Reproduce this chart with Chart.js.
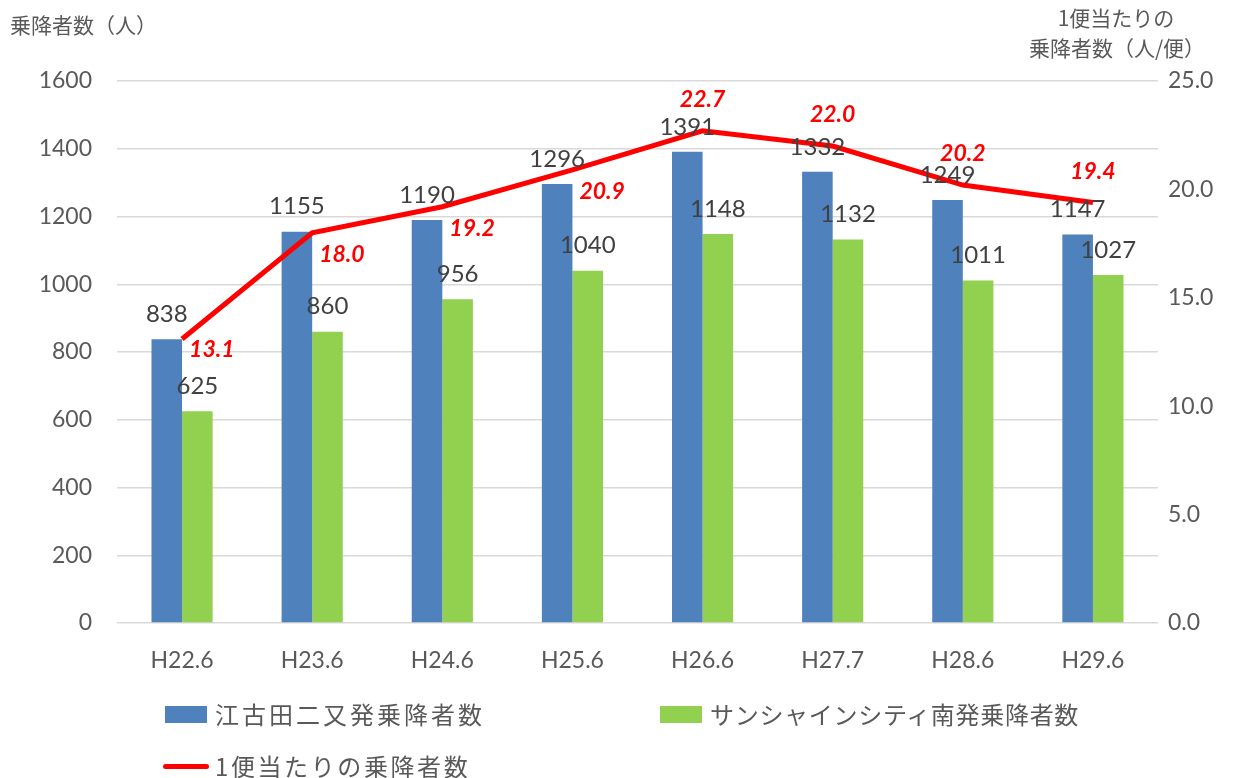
<!DOCTYPE html>
<html>
<head>
<meta charset="utf-8">
<script src="https://cdn.jsdelivr.net/npm/chart.js@4"></script>
<style>
  body { margin: 0; background: #fff; }
  #wrap { position: relative; width: 1260px; height: 778px; }
  .legend { position: absolute; font-family: "Noto Sans CJK JP", sans-serif; font-size: 24px; color: #595959; display: flex; align-items: center; white-space: nowrap; line-height: 30px; }
  .legend .sw { display: inline-block; width: 42px; height: 17px; margin-right: 8px; }
  .legend .ln { display: inline-block; width: 46px; height: 5px; border-radius: 3px; margin-right: 6px; }
</style>
</head>
<body>
<div id="wrap">
  <canvas id="barChart"></canvas>
  <div class="legend" style="left:165px; top:699px; letter-spacing:3px;"><span class="sw" style="background:#4F81BD"></span>江古田二又発乗降者数</div>
  <div class="legend" style="left:660px; top:699px; letter-spacing:0.7px;"><span class="sw" style="background:#92D050"></span>サンシャインシティ南発乗降者数</div>
  <div class="legend" style="left:163px; top:751px; letter-spacing:2.6px;"><span class="ln" style="background:#FF0000"></span>1便当たりの乗降者数</div>
</div>
<script>
    var labels = ["H22.6", "H23.6", "H24.6", "H25.6", "H26.6", "H27.7", "H28.6", "H29.6"];
    var ekodaData = [838, 1155, 1190, 1296, 1391, 1332, 1249, 1147];
    var sunshineData = [625, 860, 956, 1040, 1148, 1132, 1011, 1027];
    var perTripData = [13.1, 18.0, 19.2, 20.9, 22.7, 22.0, 20.2, 19.4];

    var numFont = "Lato, 'Noto Sans CJK JP', sans-serif";
    var jpFont = "'Noto Sans CJK JP', sans-serif";

    // where each red label sits relative to its point (first four to the right, rest above)
    var lineLabelDy = [11, 22, 22, 22, -31, -31, -31, -31];

    // data labels + axis titles, drawn by hand (no datalabels plugin here)
    var labelPlugin = {
        id: 'valueLabels',
        afterDatasetsDraw: function(chart) {
            var ctx = chart.ctx;
            ctx.save();
            ctx.textAlign = 'center';
            ctx.textBaseline = 'middle';
            ctx.font = "24px " + numFont;
            ctx.fillStyle = '#404040';
            [0, 1].forEach(function(di) {
                var meta = chart.getDatasetMeta(di);
                var vals = chart.data.datasets[di].data;
                meta.data.forEach(function(bar, i) {
                    ctx.fillText(String(vals[i]), bar.x, bar.y - 25);
                });
            });
            ctx.font = "italic bold 23px " + numFont;
            ctx.fillStyle = '#FF0000';
            var lineMeta = chart.getDatasetMeta(2);
            lineMeta.data.forEach(function(pt, i) {
                var txt = perTripData[i].toFixed(1);
                if (lineLabelDy[i] > 0) {
                    ctx.textAlign = 'left';
                    ctx.fillText(txt, pt.x + 7, pt.y + lineLabelDy[i]);
                } else {
                    ctx.textAlign = 'center';
                    ctx.fillText(txt, pt.x, pt.y + lineLabelDy[i]);
                }
            });
            // axis titles
            ctx.fillStyle = '#595959';
            ctx.font = "21px " + jpFont;
            ctx.textAlign = 'left';
            ctx.fillText("乗降者数（人）", 10, 25);
            ctx.textAlign = 'center';
            ctx.fillText("1便当たりの", 1116, 18);
            ctx.fillText("乗降者数（人/便）", 1117, 48);
            ctx.restore();
        }
    };

    var chartData = {
        labels: labels,
        datasets: [
            {
                type: 'bar',
                label: "江古田二又発乗降者数",
                backgroundColor: "#4F81BD",
                data: ekodaData,
                yAxisID: 'y',
                order: 1
            },
            {
                type: 'bar',
                label: "サンシャインシティ南発乗降者数",
                backgroundColor: "#92D050",
                data: sunshineData,
                yAxisID: 'y',
                order: 1
            },
            {
                type: 'line',
                label: "1便当たりの乗降者数",
                borderColor: "#FF0000",
                backgroundColor: "#FF0000",
                borderWidth: 5,
                pointRadius: 0,
                tension: 0,
                data: perTripData,
                yAxisID: 'y2',
                order: 0
            }
        ]
    };

    var chartOptions = {
        responsive: true,
        maintainAspectRatio: false,
        animation: false,
        layout: { padding: { left: 0, right: 0, top: 81, bottom: 95 } },
        datasets: { bar: { categoryPercentage: 0.47, barPercentage: 1.0 } },
        plugins: { legend: { display: false }, tooltip: { enabled: false } },
        scales: {
            x: {
                grid: { display: false, drawTicks: false },
                border: { display: false },
                ticks: { color: '#595959', font: { size: 23, family: numFont }, padding: 24, maxRotation: 0 },
                afterFit: function(s) { s.height = 60; }
            },
            y: {
                position: 'left',
                min: 0, max: 1600,
                grid: { color: '#D9D9D9', lineWidth: 1.5, drawTicks: false },
                border: { display: false },
                ticks: {
                    stepSize: 200, color: '#595959', font: { size: 23, family: numFont }, padding: 25,
                    callback: function(v) { return String(v); }
                },
                afterFit: function(s) { s.width = 117; }
            },
            y2: {
                position: 'right',
                min: 0, max: 25,
                grid: { display: false, drawTicks: false },
                border: { display: false },
                ticks: {
                    stepSize: 5, color: '#595959', font: { size: 23, family: numFont }, padding: 10,
                    callback: function(v) { return Number(v).toFixed(1); }
                },
                afterFit: function(s) { s.width = 102; }
            }
        }
    };

    var ctx = document.getElementById("barChart").getContext("2d");
    new Chart(ctx, { data: chartData, options: chartOptions, plugins: [labelPlugin] });
</script>
</body>
</html>
